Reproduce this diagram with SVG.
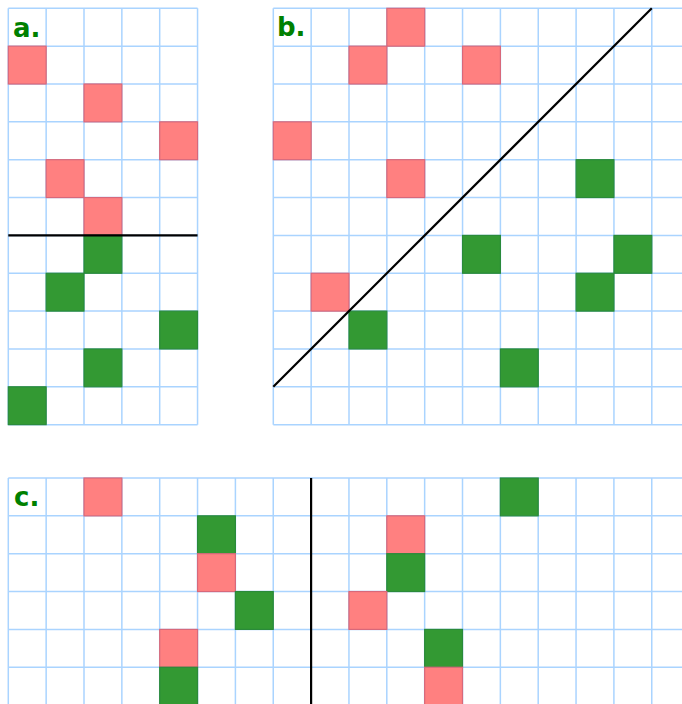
<svg xmlns="http://www.w3.org/2000/svg" width="682" height="704" viewBox="0 0 682 704">
<style>
.grid{stroke:#aad4ff;stroke-width:1.5;fill:none}
.r{fill:#ff8080;stroke:#d8687a;stroke-width:1.2}
.g{fill:#339933;stroke:#2a8a3a;stroke-width:1.2}
.lbl{font-family:"DejaVu Sans",sans-serif;font-weight:bold;font-size:26px;fill:#008000}
.cut{stroke:#000;stroke-width:2.2;fill:none}
</style>
<rect width="682" height="704" fill="#fff"/>
<g id="panel-a">
<path class="grid" d="M8.3 8.3V424.65M46.15 8.3V424.65M84 8.3V424.65M121.85 8.3V424.65M159.7 8.3V424.65M197.55 8.3V424.65M8.3 8.3H197.55M8.3 46.15H197.55M8.3 84H197.55M8.3 121.85H197.55M8.3 159.7H197.55M8.3 197.55H197.55M8.3 235.4H197.55M8.3 273.25H197.55M8.3 311.1H197.55M8.3 348.95H197.55M8.3 386.8H197.55M8.3 424.65H197.55"/>
<g id="a-cells">
<rect class="r" x="8.3" y="46.15" width="37.85" height="37.85"/>
<rect class="r" x="84" y="84" width="37.85" height="37.85"/>
<rect class="r" x="159.7" y="121.85" width="37.85" height="37.85"/>
<rect class="r" x="46.15" y="159.7" width="37.85" height="37.85"/>
<rect class="r" x="84" y="197.55" width="37.85" height="37.85"/>
<rect class="g" x="84" y="235.4" width="37.85" height="37.85"/>
<rect class="g" x="46.15" y="273.25" width="37.85" height="37.85"/>
<rect class="g" x="159.7" y="311.1" width="37.85" height="37.85"/>
<rect class="g" x="84" y="348.95" width="37.85" height="37.85"/>
<rect class="g" x="8.3" y="386.8" width="37.85" height="37.85"/>
</g>
<text class="lbl" x="13" y="37">a.</text>
</g>
<g id="panel-b">
<path class="grid" d="M273.3 8.3V424.65M311.15 8.3V424.65M349 8.3V424.65M386.85 8.3V424.65M424.7 8.3V424.65M462.55 8.3V424.65M500.4 8.3V424.65M538.25 8.3V424.65M576.1 8.3V424.65M613.95 8.3V424.65M651.8 8.3V424.65M273.3 8.3H690M273.3 46.15H690M273.3 84H690M273.3 121.85H690M273.3 159.7H690M273.3 197.55H690M273.3 235.4H690M273.3 273.25H690M273.3 311.1H690M273.3 348.95H690M273.3 386.8H690M273.3 424.65H690"/>
<g id="b-cells">
<rect class="r" x="386.85" y="8.3" width="37.85" height="37.85"/>
<rect class="r" x="349" y="46.15" width="37.85" height="37.85"/>
<rect class="r" x="462.55" y="46.15" width="37.85" height="37.85"/>
<rect class="r" x="273.3" y="121.85" width="37.85" height="37.85"/>
<rect class="r" x="386.85" y="159.7" width="37.85" height="37.85"/>
<rect class="g" x="576.1" y="159.7" width="37.85" height="37.85"/>
<rect class="g" x="462.55" y="235.4" width="37.85" height="37.85"/>
<rect class="g" x="613.95" y="235.4" width="37.85" height="37.85"/>
<rect class="r" x="311.15" y="273.25" width="37.85" height="37.85"/>
<rect class="g" x="576.1" y="273.25" width="37.85" height="37.85"/>
<rect class="g" x="349" y="311.1" width="37.85" height="37.85"/>
<rect class="g" x="500.4" y="348.95" width="37.85" height="37.85"/>
</g>
<text class="lbl" x="277" y="36">b.</text>
</g>
<g id="panel-c">
<path class="grid" d="M8.3 478V705M46.15 478V705M84 478V705M121.85 478V705M159.7 478V705M197.55 478V705M235.4 478V705M273.25 478V705M311.1 478V705M348.95 478V705M386.8 478V705M424.65 478V705M462.5 478V705M500.35 478V705M538.2 478V705M576.05 478V705M613.9 478V705M651.75 478V705M8.3 478H690M8.3 515.85H690M8.3 553.7H690M8.3 591.55H690M8.3 629.4H690M8.3 667.25H690"/>
<g id="c-cells">
<rect class="r" x="84" y="478" width="37.85" height="37.85"/>
<rect class="g" x="500.35" y="478" width="37.85" height="37.85"/>
<rect class="g" x="197.55" y="515.85" width="37.85" height="37.85"/>
<rect class="r" x="386.8" y="515.85" width="37.85" height="37.85"/>
<rect class="r" x="197.55" y="553.7" width="37.85" height="37.85"/>
<rect class="g" x="386.8" y="553.7" width="37.85" height="37.85"/>
<rect class="g" x="235.4" y="591.55" width="37.85" height="37.85"/>
<rect class="r" x="348.95" y="591.55" width="37.85" height="37.85"/>
<rect class="r" x="159.7" y="629.4" width="37.85" height="37.85"/>
<rect class="g" x="424.65" y="629.4" width="37.85" height="37.85"/>
<rect class="g" x="159.7" y="667.25" width="37.85" height="37.85"/>
<rect class="r" x="424.65" y="667.25" width="37.85" height="37.85"/>
</g>
<text class="lbl" x="14" y="506">c.</text>
</g>
<g id="connectors">
<line class="cut" x1="8.3" y1="235.4" x2="197.55" y2="235.4"/>
<line class="cut" x1="273.3" y1="386.8" x2="651.8" y2="8.3"/>
<line class="cut" x1="311.1" y1="478" x2="311.1" y2="705"/>
</g>
</svg>
